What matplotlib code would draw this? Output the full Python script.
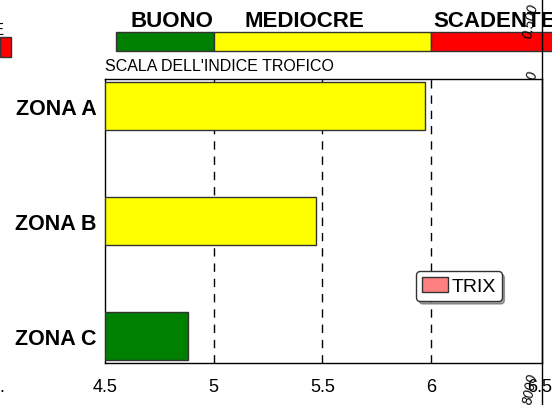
import matplotlib.pyplot as plt
from matplotlib.patches import Rectangle
from matplotlib.lines import Line2D

plt.rcParams['font.family'] = ['Liberation Sans', 'DejaVu Sans']

# Dati
zone = ['ZONA C', 'ZONA B', 'ZONA A']
trix = [4.88, 5.47, 5.97]
colori = ['#008000', '#ffff00', '#ffff00']

# scala dell'indice trofico
classi = ['BUONO', 'MEDIOCRE', 'SCADENTE']
inizio_classi = [4.55, 5.0, 6.0]
fine_classi = [5.0, 6.0, 7.0]
colori_classi = ['#008000', '#ffff00', '#ff0000']
pos_etichette = [4.81, 5.416, 6.29]

xticks = [4.5, 5, 5.5, 6, 6.5]

fig = plt.figure(figsize=(5.52, 4.06), dpi=100)
ax = fig.add_axes([0.19, 0.1034, 0.792, 0.700])

ypos = list(range(len(zone)))
ax.barh(ypos, [v - 4.5 for v in trix], left=4.5, height=0.42, color=colori,
        edgecolor='#333333', linewidth=1, zorder=3)
# barra fittizia per la legenda
ax.barh([-5], [0], color='#ff8080', edgecolor='#333333', label='TRIX')

for x in [5, 5.5, 6]:
    ax.axvline(x, color='black', linestyle=(0, (6, 5)), linewidth=1, zorder=2)

ax.set_xlim(4.5, 6.51)
ax.set_ylim(-0.235, 2.235)
ax.set_xticks(xticks)
ax.set_xticklabels(['4.5', '5', '5.5', '6', '6.5'], fontsize=13)
ax.set_yticks(ypos)
ax.set_yticklabels(zone, fontsize=15.5, fontweight='bold')
ax.tick_params(axis='x', length=0, pad=11)
ax.tick_params(axis='y', length=0, pad=6)
for s in ax.spines.values():
    s.set_linewidth(1)

# scala colorata sopra il grafico
trans = ax.get_xaxis_transform()
for a, b, c in zip(inizio_classi, fine_classi, colori_classi):
    ax.add_patch(Rectangle((a, 1.099), b - a, 0.066, transform=trans,
                           facecolor=c, edgecolor='#333333', linewidth=1,
                           clip_on=False))
for nome, x in zip(classi, pos_etichette):
    ax.text(x, 1.185, nome, transform=trans, ha='center', va='baseline',
            fontsize=16, fontweight='bold', clip_on=False)
ax.text(4.5, 1.03, "SCALA DELL'INDICE TROFICO", transform=trans,
        ha='left', va='baseline', fontsize=11.5)

leg = ax.legend(loc='center', bbox_to_anchor=(0.81, 0.27), fontsize=14,
                fancybox=True, shadow=True, handlelength=1.3, handleheight=0.8,
                handletextpad=0.2, borderpad=0.3, framealpha=1, edgecolor='#333333')

# residui di un altro grafico ai bordi
fig.patches.append(Rectangle((0, 1 - 58 / 406), 11 / 552, 20 / 406,
                             transform=fig.transFigure, facecolor='#ff0000',
                             edgecolor='#333333', linewidth=1))
fig.text(4 / 552, 1 - 35 / 406, 'E', ha='right', va='baseline', fontsize=12)
fig.text(4 / 552, 1 - 392 / 406, '.', ha='right', va='baseline', fontsize=13)
fig.lines.append(Line2D([542 / 552, 542 / 552], [0, 1], transform=fig.transFigure,
                        color='black', linewidth=1))
fig.text(530 / 552, 1 - 40 / 406, '0.500', rotation=80, style='italic',
         fontsize=10, ha='center', va='bottom')
fig.text(532 / 552, 1 - 75 / 406, '0', rotation=80, style='italic',
         fontsize=10, ha='center', va='center')
fig.text(530 / 552, 0, '8000', rotation=80, style='italic',
         fontsize=10, ha='center', va='bottom')

plt.savefig('out.png', dpi=100)
